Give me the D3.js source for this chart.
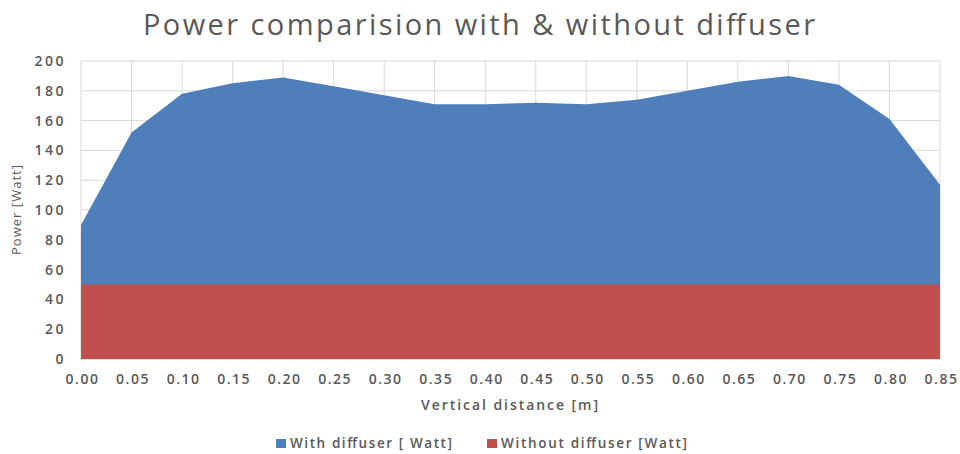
<!DOCTYPE html>
<html><head><meta charset="utf-8">
<script src="https://cdn.jsdelivr.net/npm/d3@7"></script>
<style>body{margin:0;background:#fff;} text{font-family:"Open Sans",Calibri,sans-serif;}</style>
</head><body><svg id="c" width="960" height="454"></svg>
<script>
const categories = ["0.00","0.05","0.10","0.15","0.20","0.25","0.30","0.35","0.40","0.45","0.50","0.55","0.60","0.65","0.70","0.75","0.80","0.85"];
const withDiffuser = [90,152,178,185,189,183,177,171,171,172,171,174,180,186,190,184,161,117];
const withoutDiffuser = [50,50,50,50,50,50,50,50,50,50,50,50,50,50,50,50,50,50];
const yTicks = [0,20,40,60,80,100,120,140,160,180,200];
const seriesNames = ["With diffuser [ Watt]","Without diffuser [Watt]"];
const colors = ["#4f7fbb","#c0504d"];

const svg = d3.select("#c");
const m = {l:81, r:940, t:61, b:359};
const x = d3.scalePoint().domain(categories).range([m.l, m.r]);
const y = d3.scaleLinear().domain([0,200]).range([m.b, m.t]);
const txt = "#595959";

// gridlines
svg.append("g").selectAll("line.h").data(yTicks).join("line")
  .attr("x1", m.l).attr("x2", m.r).attr("y1", d=>y(d)).attr("y2", d=>y(d))
  .attr("stroke","#d9d9d9").attr("stroke-width",1);
svg.append("g").selectAll("line.v").data(categories).join("line")
  .attr("x1", d=>x(d)).attr("x2", d=>x(d)).attr("y1", m.t).attr("y2", m.b)
  .attr("stroke","#d9d9d9").attr("stroke-width",1);

const area = d3.area().x((d,i)=>x(categories[i])).y0(y(0)).y1(d=>y(d));
svg.append("path").datum(withDiffuser).attr("d", area).attr("fill", colors[0]);
svg.append("path").datum(withoutDiffuser).attr("d", area).attr("fill", colors[1]);

// axes
const yAxis = d3.axisLeft(y).tickValues(yTicks).tickSize(0).tickPadding(15);
const gy = svg.append("g").attr("transform",`translate(${m.l},0)`).call(yAxis);
gy.select(".domain").remove();
gy.selectAll("text").attr("fill",txt).style("font-size","14px").style("letter-spacing","2.5px").style("font-weight","600");

const xAxis = d3.axisBottom(x).tickSize(0).tickPadding(15);
const gx = svg.append("g").attr("transform",`translate(0,${m.b})`).call(xAxis);
gx.select(".domain").attr("stroke","#d9d9d9");
gx.selectAll("text").attr("fill",txt).style("font-size","14px").style("letter-spacing","1.5px").style("font-weight","600")
  .attr("dx","1px");

// titles
svg.append("text").attr("x",143).attr("y",35)
  .attr("fill",txt).style("font-size","29px").attr("textLength",672).attr("lengthAdjust","spacing")
  .text("Power comparision with & without diffuser");
svg.append("text").attr("x",421).attr("y",410)
  .attr("fill",txt).style("font-size","14px").style("font-weight","600").attr("textLength",177).attr("lengthAdjust","spacing")
  .text("Vertical distance [m]");
svg.append("text").attr("transform","translate(21,255) rotate(-90)")
  .attr("fill",txt).style("font-size","13px").attr("textLength",90).attr("lengthAdjust","spacing")
  .text("Power [Watt]");

// legend
const leg = [{x:276, w:162},{x:487, w:186}];
seriesNames.forEach((n,i)=>{
  svg.append("rect").attr("x",leg[i].x).attr("y",439).attr("width",10).attr("height",9).attr("fill",colors[i]);
  svg.append("text").attr("x",leg[i].x+14).attr("y",448).attr("fill",txt).style("font-size","13.5px").style("font-weight","600")
    .attr("textLength",leg[i].w).attr("lengthAdjust","spacing").text(n);
});
</script></body></html>
